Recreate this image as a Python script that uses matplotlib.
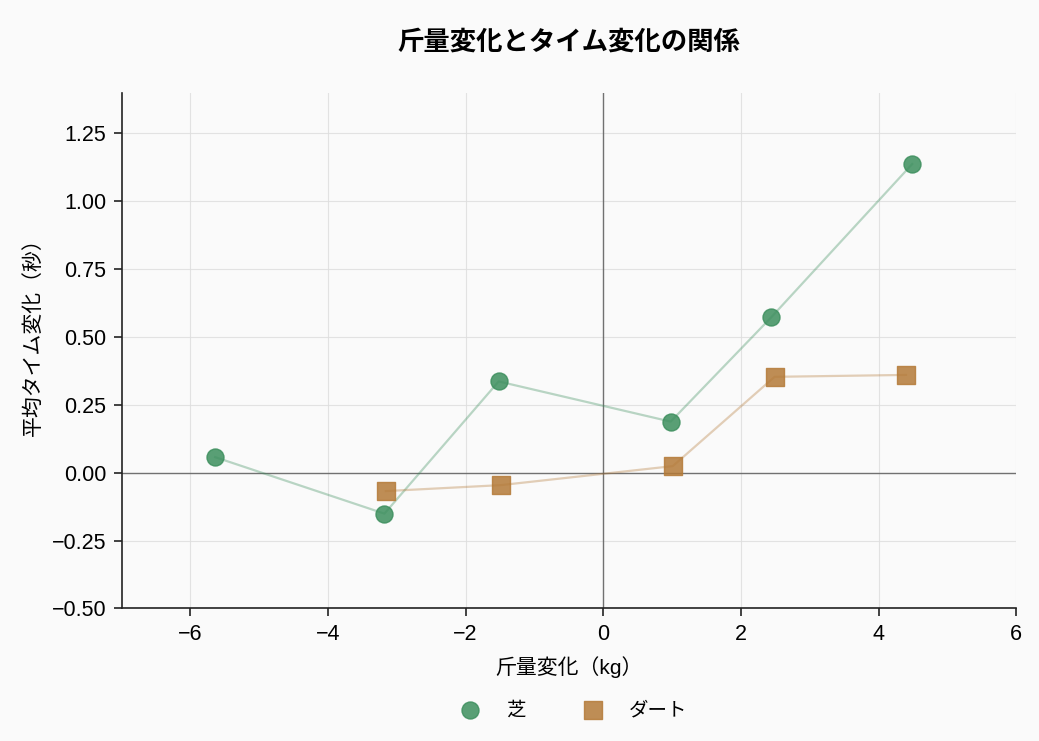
import matplotlib.pyplot as plt

plt.rcParams['font.family'] = ['Liberation Sans', 'Noto Sans CJK JP', 'DejaVu Sans']
plt.rcParams['axes.unicode_minus'] = True

# 芝
turf_x = [-5.64, -3.18, -1.52, 0.98, 2.44, 4.49]
turf_y = [0.057, -0.151, 0.336, 0.188, 0.572, 1.137]
# ダート
dirt_x = [-3.16, -1.49, 1.01, 2.49, 4.40]
dirt_y = [-0.068, -0.046, 0.024, 0.353, 0.360]

green = "#3d8f5e"
brown = "#b47a38"

fig = plt.figure(figsize=(10.39, 7.41), dpi=100, facecolor="#fafafa")
ax = fig.add_axes([0.117, 0.179, 0.861, 0.696])
ax.set_facecolor("#fafafa")

ax.plot(turf_x, turf_y, color=green, alpha=0.35, lw=1.6, zorder=2)
ax.plot(dirt_x, dirt_y, color=brown, alpha=0.35, lw=1.6, zorder=2)
ax.scatter(turf_x, turf_y, s=150, marker="o", color=green, alpha=0.85,
           edgecolor=green, linewidth=1, zorder=3, label="芝")
ax.scatter(dirt_x, dirt_y, s=150, marker="s", color=brown, alpha=0.85,
           edgecolor=brown, linewidth=1, zorder=3, label="ダート")

ax.axhline(0, color="#555555", lw=1, alpha=0.8, zorder=1)
ax.axvline(0, color="#555555", lw=1, alpha=0.8, zorder=1)

ax.set_xlim(-7, 6)
ax.set_ylim(-0.5, 1.4)
ax.set_yticks([-0.5, -0.25, 0, 0.25, 0.5, 0.75, 1.0, 1.25])
ax.grid(True, color="#dddddd", lw=0.8, alpha=0.8)
ax.set_axisbelow(True)
for s in ["top", "right"]:
    ax.spines[s].set_visible(False)
for s in ["left", "bottom"]:
    ax.spines[s].set_color("#222222")
    ax.spines[s].set_linewidth(1.2)
ax.tick_params(labelsize=15.5, length=6, width=1.2, color="#222222", pad=5)

ax.set_xlabel("斤量変化（kg）", fontsize=15, labelpad=8)
ax.set_ylabel("平均タイム変化（秒）", fontsize=15, labelpad=6)
ax.yaxis.label.set_y(0.537)
fig.text(0.5477, 0.943, "斤量変化とタイム変化の関係", fontsize=19, fontweight="bold",
         ha="center", va="center")

ax.legend(loc="upper center", bbox_to_anchor=(0.5, -0.147), ncol=2, frameon=False,
          fontsize=14, columnspacing=2.5, handletextpad=0.85)

plt.savefig("out.png", dpi=100, facecolor=fig.get_facecolor())
